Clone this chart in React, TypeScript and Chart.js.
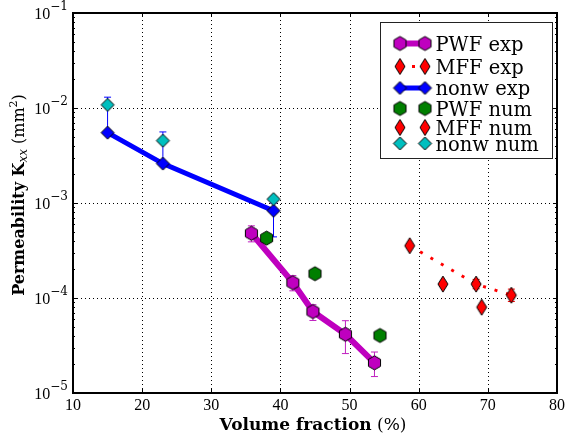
import React, { useEffect, useRef } from 'react';
import { Chart, registerables } from 'chart.js';

Chart.register(...registerables);

// ---------------- data ----------------
const pwfExpX = [35.8, 41.8, 44.7, 49.4, 53.6];
const pwfExpY = [4.8e-4, 1.45e-4, 7.2e-5, 4.15e-5, 2.08e-5];
const pwfExpLow = [3.9e-4, 1.19e-4, 5.8e-5, 2.6e-5, 1.49e-5];
const pwfExpHigh = [5.75e-4, 1.72e-4, 8.5e-5, 5.77e-5, 2.7e-5];

const mffExpX = [58.7, 68.3, 73.4];
const mffExpY = [3.55e-4, 1.4e-4, 1.07e-4];
const mffExpLow = [3.55e-4, 1.25e-4, 9.2e-5];
const mffExpHigh = [3.55e-4, 1.57e-4, 1.24e-4];

const nonwExpX = [15, 23, 39];
const nonwExpY = [5.5e-3, 2.6e-3, 8.3e-4];
const nonwExpLow = [5.5e-3, 2.6e-3, 4.4e-4];
const nonwExpHigh = [1.3e-2, 5.6e-3, 1.0e-3];

const pwfNumX = [38.0, 45.0, 54.4];
const pwfNumY = [4.27e-4, 1.8e-4, 4.03e-5];

const mffNumX = [63.5, 69.1];
const mffNumY = [1.4e-4, 8.0e-5];

const nonwNumX = [15, 23, 39];
const nonwNumY = [1.08e-2, 4.53e-3, 1.1e-3];

const legendLabels = ['PWF exp', 'MFF exp', 'nonw exp', 'PWF num', 'MFF num', 'nonw num'];
const xTicks = [10, 20, 30, 40, 50, 60, 70, 80];
const xGrid = [20, 30, 40, 50, 60, 70];
const yTickExps = [-5, -4, -3, -2, -1];
const yGridExps = [-4, -3, -2];

// ---------------- styles ----------------
const MAGENTA = '#bf00bf';
const RED = '#ff0000';
const BLUE = '#0000ff';
const GREEN = '#007f00';
const CYAN = '#00bfbf';
const SERIF = '"DejaVu Serif", serif';
const TICKF = '"Liberation Serif", serif';

type Kind = 'hex' | 'diamond';

function makeMarker(kind: Kind, fill: string, w: number, h: number): HTMLCanvasElement {
  const c = document.createElement('canvas');
  c.width = Math.ceil(w) + 4;
  c.height = Math.ceil(h) + 4;
  const ctx = c.getContext('2d')!;
  const cx = c.width / 2;
  const cy = c.height / 2;
  ctx.beginPath();
  if (kind === 'hex') {
    const r = h / 2;
    for (let k = 0; k < 6; k++) {
      const a = (-90 + 60 * k) * Math.PI / 180;
      const px = cx + r * Math.cos(a);
      const py = cy + r * Math.sin(a);
      if (k === 0) ctx.moveTo(px, py); else ctx.lineTo(px, py);
    }
  } else {
    ctx.moveTo(cx, cy - h / 2);
    ctx.lineTo(cx + w / 2, cy);
    ctx.lineTo(cx, cy + h / 2);
    ctx.lineTo(cx - w / 2, cy);
  }
  ctx.closePath();
  ctx.fillStyle = fill;
  ctx.fill();
  ctx.lineWidth = 1;
  ctx.strokeStyle = '#000';
  ctx.stroke();
  return c;
}

function pts(xs: number[], ys: number[]) {
  return xs.map((x, i) => ({ x, y: ys[i] }));
}

type Run = { t: string; f: string; dy?: number };
function drawRuns(ctx: CanvasRenderingContext2D, runs: Run[], cx: number, by: number) {
  let total = 0;
  const widths = runs.map(r => { ctx.font = r.f; const w = ctx.measureText(r.t).width; total += w; return w; });
  let x = cx - total / 2;
  ctx.textAlign = 'left';
  ctx.textBaseline = 'alphabetic';
  runs.forEach((r, i) => {
    ctx.font = r.f;
    ctx.fillText(r.t, x, by + (r.dy || 0));
    x += widths[i];
  });
}

export default function App() {
  const ref = useRef<HTMLCanvasElement>(null);

  useEffect(() => {
    const canvas = ref.current!;
    const mPwfExp = makeMarker('hex', MAGENTA, 12.1, 14);
    const mPwfNum = makeMarker('hex', GREEN, 12.1, 14);
    const mMff = makeMarker('diamond', RED, 10, 16);
    const mNonwExp = makeMarker('diamond', BLUE, 13, 13);
    const mNonwNum = makeMarker('diamond', CYAN, 13, 13);

    const errSeries = [
      { xs: pwfExpX, ys: pwfExpY, lo: pwfExpLow, hi: pwfExpHigh, color: '#c020c0' },
      { xs: mffExpX, ys: mffExpY, lo: mffExpLow, hi: mffExpHigh, color: RED },
      { xs: nonwExpX, ys: nonwExpY, lo: nonwExpLow, hi: nonwExpHigh, color: BLUE },
    ];

    const legendRows = [
      { y: 43.5, m: mPwfExp, line: { color: MAGENTA, w: 6, dash: [] as number[] } },
      { y: 66.5, m: mMff, line: { color: RED, w: 3, dash: [3, 9] } },
      { y: 88, m: mNonwExp, line: { color: BLUE, w: 5, dash: [] as number[] } },
      { y: 108.5, m: mPwfNum, line: null },
      { y: 127.5, m: mMff, line: null },
      { y: 143.5, m: mNonwNum, line: null },
    ];

    const deco = {
      id: 'deco',
      beforeDraw(chart: any) {
        const ctx = chart.ctx;
        ctx.save();
        ctx.fillStyle = '#fff';
        ctx.fillRect(0, 0, chart.width, chart.height);
        ctx.restore();
      },
      beforeDatasetsDraw(chart: any) {
        const ctx: CanvasRenderingContext2D = chart.ctx;
        const a = chart.chartArea;
        const xs = chart.scales.x;
        const ys = chart.scales.y;
        ctx.save();
        // grid
        ctx.strokeStyle = '#000';
        ctx.lineWidth = 1;
        ctx.setLineDash([1, 3]);
        xGrid.forEach(v => {
          const px = Math.round(xs.getPixelForValue(v)) + 0.5;
          ctx.beginPath(); ctx.moveTo(px, a.bottom); ctx.lineTo(px, a.top); ctx.stroke();
        });
        yGridExps.forEach(e => {
          const py = Math.round(ys.getPixelForValue(Math.pow(10, e))) + 0.5;
          ctx.beginPath(); ctx.moveTo(a.left, py); ctx.lineTo(a.right, py); ctx.stroke();
        });
        ctx.setLineDash([]);
        // error bars
        errSeries.forEach(s => {
          ctx.strokeStyle = s.color;
          ctx.lineWidth = 1;
          s.xs.forEach((xv, i) => {
            const px = xs.getPixelForValue(xv);
            const pv = ys.getPixelForValue(s.ys[i]);
            const pl = ys.getPixelForValue(s.lo[i]);
            const ph = ys.getPixelForValue(s.hi[i]);
            if (Math.abs(pl - ph) < 0.5) return;
            ctx.beginPath(); ctx.moveTo(px, pl); ctx.lineTo(px, ph); ctx.stroke();
            if (ph < pv - 0.5) { ctx.beginPath(); ctx.moveTo(px - 3.5, ph); ctx.lineTo(px + 3.5, ph); ctx.stroke(); }
            if (pl > pv + 0.5) { ctx.beginPath(); ctx.moveTo(px - 3.5, pl); ctx.lineTo(px + 3.5, pl); ctx.stroke(); }
          });
        });
        ctx.restore();
      },
      afterDatasetsDraw(chart: any) {
        const ctx: CanvasRenderingContext2D = chart.ctx;
        const a = chart.chartArea;
        const xs = chart.scales.x;
        const ys = chart.scales.y;
        ctx.save();
        ctx.strokeStyle = '#000';
        ctx.fillStyle = '#000';
        // ticks
        ctx.lineWidth = 1;
        xTicks.forEach(v => {
          const px = Math.round(xs.getPixelForValue(v)) + 0.5;
          ctx.beginPath();
          ctx.moveTo(px, a.bottom); ctx.lineTo(px, a.bottom - 4);
          ctx.moveTo(px, a.top); ctx.lineTo(px, a.top + 4);
          ctx.stroke();
        });
        for (let e = -5; e < -1; e++) {
          for (let m = 2; m <= 9; m++) {
            const py = Math.round(ys.getPixelForValue(m * Math.pow(10, e))) + 0.5;
            ctx.beginPath();
            ctx.moveTo(a.left, py); ctx.lineTo(a.left + 2, py);
            ctx.moveTo(a.right, py); ctx.lineTo(a.right - 2, py);
            ctx.stroke();
          }
        }
        yTickExps.forEach(e => {
          const py = Math.round(ys.getPixelForValue(Math.pow(10, e))) + 0.5;
          ctx.beginPath();
          ctx.moveTo(a.left, py); ctx.lineTo(a.left + 4, py);
          ctx.moveTo(a.right, py); ctx.lineTo(a.right - 4, py);
          ctx.stroke();
        });
        // frame
        ctx.lineWidth = 2;
        ctx.strokeRect(a.left, a.top, a.right - a.left, a.bottom - a.top);
        // x tick labels
        ctx.font = '16px ' + TICKF;
        ctx.textAlign = 'center';
        ctx.textBaseline = 'alphabetic';
        xTicks.forEach(v => {
          ctx.fillText(String(v), xs.getPixelForValue(v), 410);
        });
        // y tick labels
        yTickExps.forEach(e => {
          const py = ys.getPixelForValue(Math.pow(10, e));
          const sup = '\u2212' + Math.abs(e);
          ctx.font = '12px ' + SERIF;
          const ws = ctx.measureText(sup).width;
          ctx.font = '16px ' + TICKF;
          const wb = ctx.measureText('10').width;
          const right = 68;
          ctx.textAlign = 'left';
          ctx.fillText('10', right - ws - wb, py + 6);
          ctx.font = '12px ' + SERIF;
          ctx.fillText(sup, right - ws, py - 3);
        });
        // axis titles
        drawRuns(ctx, [
          { t: 'Volume fraction', f: 'bold 17px ' + SERIF },
          { t: ' (%)', f: '17px ' + SERIF },
        ], (a.left + a.right) / 2 - 2, 430);
        ctx.save();
        ctx.translate(24, 195);
        ctx.rotate(-Math.PI / 2);
        drawRuns(ctx, [
          { t: 'Permeability K', f: 'bold 16px ' + SERIF },
          { t: 'xx', f: 'italic 12px ' + SERIF, dy: 3 },
          { t: ' (mm', f: '16px ' + SERIF },
          { t: '2', f: '11px ' + SERIF, dy: -7 },
          { t: ')', f: '16px ' + SERIF },
        ], 0, 0);
        ctx.restore();
        // legend
        ctx.fillStyle = '#fff';
        ctx.fillRect(380.5, 22.5, 172, 136);
        ctx.lineWidth = 1;
        ctx.strokeStyle = '#222';
        ctx.strokeRect(380.5, 22.5, 172, 136);
        const m1 = 400, m2 = 425;
        legendRows.forEach((row, i) => {
          if (row.line) {
            ctx.strokeStyle = row.line.color;
            ctx.lineWidth = row.line.w;
            ctx.setLineDash(row.line.dash);
            ctx.beginPath(); ctx.moveTo(m1, row.y); ctx.lineTo(m2, row.y); ctx.stroke();
            ctx.setLineDash([]);
          }
          ctx.drawImage(row.m, m1 - row.m.width / 2, row.y - row.m.height / 2);
          ctx.drawImage(row.m, m2 - row.m.width / 2, row.y - row.m.height / 2);
          ctx.fillStyle = '#000';
          ctx.font = '19.5px ' + SERIF;
          ctx.textAlign = 'left';
          ctx.textBaseline = 'alphabetic';
          ctx.fillText(legendLabels[i], 435.5, row.y + 7);
        });
        ctx.restore();
      },
    };

    const chart = new Chart(canvas, {
      type: 'scatter',
      data: {
        datasets: [
          { label: 'nonw num', data: pts(nonwNumX, nonwNumY), pointStyle: mNonwNum as any, pointRadius: 6, showLine: false, order: 0 },
          { label: 'MFF num', data: pts(mffNumX, mffNumY), pointStyle: mMff as any, pointRadius: 6, showLine: false, order: 1 },
          { label: 'PWF num', data: pts(pwfNumX, pwfNumY), pointStyle: mPwfNum as any, pointRadius: 6, showLine: false, order: 2 },
          { label: 'nonw exp', data: pts(nonwExpX, nonwExpY), pointStyle: mNonwExp as any, pointRadius: 6, showLine: true, borderColor: BLUE, borderWidth: 5, order: 3 },
          { label: 'MFF exp', data: pts(mffExpX, mffExpY), pointStyle: mMff as any, pointRadius: 6, showLine: true, borderColor: RED, borderWidth: 3, borderDash: [3, 9], order: 4 },
          { label: 'PWF exp', data: pts(pwfExpX, pwfExpY), pointStyle: mPwfExp as any, pointRadius: 6, showLine: true, borderColor: MAGENTA, borderWidth: 6, order: 5 },
        ] as any,
      },
      options: {
        animation: false,
        responsive: false,
        devicePixelRatio: 1,
        layout: { padding: { left: 73, top: 13, right: 7, bottom: 44 } },
        plugins: { legend: { display: false }, tooltip: { enabled: false } },
        events: [],
        scales: {
          x: { type: 'linear', min: 10, max: 80, display: false },
          y: { type: 'logarithmic', min: 1e-5, max: 1e-1, display: false },
        },
      },
      plugins: [deco],
    });
    return () => chart.destroy();
  }, []);

  return (
    <div style={{ position: 'fixed', left: 0, top: 0, width: 569, height: 437, background: '#fff' }}>
      <canvas ref={ref} width={569} height={437} style={{ display: 'block' }} />
    </div>
  );
}
